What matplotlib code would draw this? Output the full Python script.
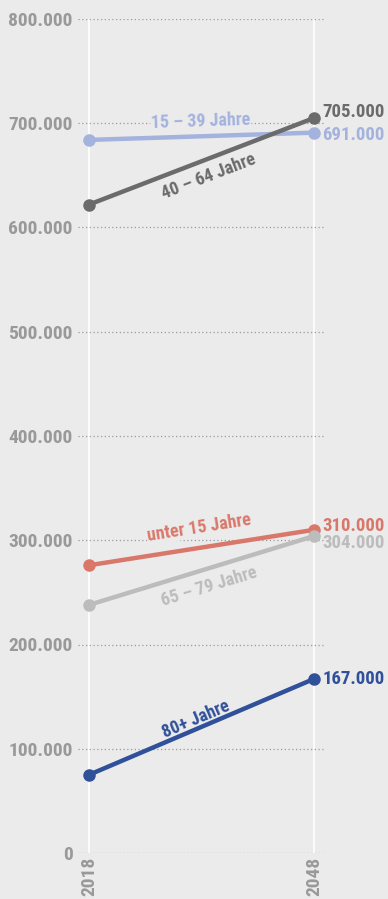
import matplotlib
matplotlib.use("Agg")
import matplotlib.pyplot as plt
import numpy as np

# Bevölkerung nach Altersgruppen, 2018 und 2048
years = [2018, 2048]
series = ["15 – 39 Jahre", "40 – 64 Jahre", "unter 15 Jahre", "65 – 79 Jahre", "80+ Jahre"]
values_2018 = [684000, 622000, 276000, 238000, 75000]
values_2048 = [691000, 705000, 310000, 304000, 167000]
end_labels = ["691.000", "705.000", "310.000", "304.000", "167.000"]
colors = ["#a4b2de", "#6b6b6b", "#d9786a", "#bcbcbc", "#30509a"]

# label placement (x in data years, y in data units)
label_pos = [(2032.9, 702000), (2033.9, 649000), (2032.7, 312000), (2034.0, 255000), (2032.3, 128000)]
end_offsets = [-2, 4, 3, -5, 0]  # vertical nudge in points for end labels

bg = "#ebebeb"
plt.rcParams["font.family"] = ["Roboto Condensed", "DejaVu Sans"]
plt.rcParams["font.weight"] = "bold"
plt.rcParams["font.stretch"] = "condensed"

fig = plt.figure(figsize=(3.88, 8.99), dpi=100, facecolor=bg)
ax = fig.add_axes([78 / 388, 1 - 853 / 899, 248 / 388, 834 / 899])
ax.set_facecolor(bg)
ax.set_xlim(2016.53, 2049.6)
ax.set_ylim(0, 800000)

for s in ax.spines.values():
    s.set_visible(False)

ax.set_yticks(np.arange(0, 800001, 100000))
ax.set_yticklabels(["0"] + ["%d.000" % (v // 1000) for v in range(100000, 800001, 100000)])
ax.yaxis.grid(True, linestyle=(0, (1, 2)), color="#9a9a9a", linewidth=0.9)
ax.set_xticks(years)
ax.set_xticklabels([str(y) for y in years], rotation=90)
for y in years:
    ax.axvline(y, color="white", linewidth=1.2, zorder=1)
ax.tick_params(length=0, colors="#999999", labelsize=14, pad=3)
ax.tick_params(axis="y", pad=4)

for name, v0, v1, c, lab, pos, off in zip(series, values_2018, values_2048, colors,
                                          end_labels, label_pos, end_offsets):
    ax.plot(years, [v0, v1], color=c, linewidth=3.2, marker="o", markersize=8,
            zorder=3, clip_on=False)
    ax.annotate(lab, (years[1], v1), xytext=(6, off), textcoords="offset points",
                color=c, fontsize=13.5, va="center", ha="left", annotation_clip=False)
    # angle of the line on screen
    p0 = ax.transData.transform((years[0], v0))
    p1 = ax.transData.transform((years[1], v1))
    ang = np.degrees(np.arctan2(p1[1] - p0[1], p1[0] - p0[0]))
    ax.text(pos[0], pos[1], name, color=c, fontsize=13, rotation=ang,
            rotation_mode="anchor", ha="center", va="center", zorder=2,
            bbox=dict(facecolor=bg, edgecolor="none", pad=0.5))

fig.savefig("out.png", dpi=100, facecolor=bg)
